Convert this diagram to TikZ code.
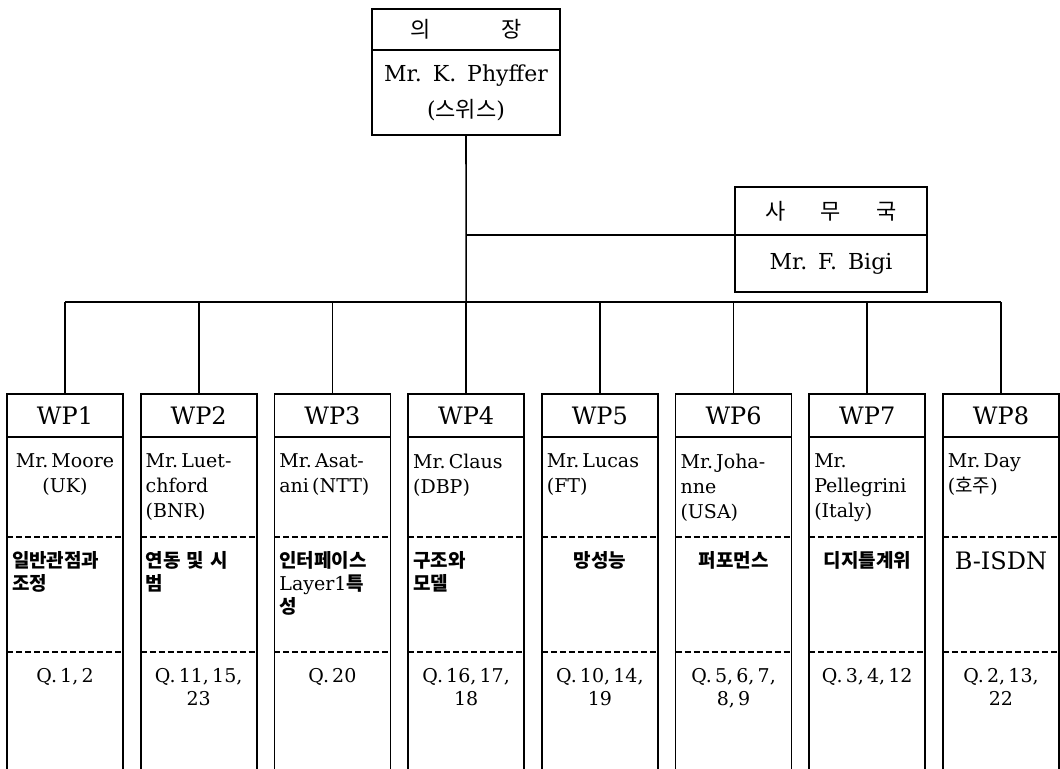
\documentclass[tikz,border=0pt]{standalone}
\usepackage{fontspec}
\setmainfont{DejaVu Serif}
\newfontfamily\kr{Noto Sans CJK KR}
\usetikzlibrary{positioning}
\begin{document}
\begin{tikzpicture}[x=0.5pt,y=-0.5pt,line width=0.8pt,
  box/.style={draw,outer sep=0pt,inner sep=0pt},
  hdr/.style={box,anchor=north,minimum width=58pt,minimum height=21.5pt,font=\fontsize{12}{14}\selectfont},
  txt/.style={anchor=north,inner sep=0pt,text width=53pt,font=\fontsize{9.5}{12.5}\selectfont},
  topic/.style={txt,font=\kr\bfseries\fontsize{9.5}{11.5}\selectfont},
  ques/.style={txt,align=center,font=\fontsize{9.5}{11.5}\selectfont},
  sep/.style={dash pattern=on 3pt off 1.5pt}]
  \useasboundingbox (0,0) rectangle (1060,768);
  % chairman and secretariat
  \node[box,anchor=north,minimum width=94pt,minimum height=20.5pt,font=\kr\fontsize{11}{13}\selectfont] (chair) at (466,9) {의\hspace{3.2em}장};
  \node[box,below=0pt of chair,minimum width=94pt,minimum height=42.5pt,align=center,font=\fontsize{11}{18}\selectfont] (chairnm) {Mr.\hspace{0.5em}K.\hspace{0.5em}Phyffer\\({\kr 스위스})};
  \node[box,anchor=north,minimum width=96pt,minimum height=24pt,font=\kr\fontsize{11}{13}\selectfont] (sec) at (831,187) {사\hspace{1.6em}무\hspace{1.6em}국};
  \node[box,below=0pt of sec,minimum width=96pt,minimum height=28.5pt,font=\fontsize{11}{13}\selectfont] (secnm) {Mr.\hspace{0.5em}F.\hspace{0.5em}Bigi};
  % working parties
  \foreach \i/\nm/\tp/\q in {
    1/{\centering Mr.\,Moore\\(UK)\endgraf}/{일반관점과\\조정}/{Q.\,1,\,2},
    2/{Mr.\,Luet-\\chford\\(BNR)}/{연동 및 시\\범}/{Q.\,11,\,15,\\23},
    3/{Mr.\,Asat-\\ani\,(NTT)}/{인터페이스\\{\rmfamily\mdseries Layer1}특\\성}/{Q.\,20},
    4/{Mr.\,Claus\\(DBP)}/{구조와\\모델}/{Q.\,16,\,17,\\18},
    5/{Mr.\,Lucas\\(FT)}/{\centering 망성능\endgraf}/{Q.\,10,\,14,\\19},
    6/{Mr.\,Joha-\\nne\\(USA)}/{\centering 퍼포먼스\endgraf}/{Q.\,5,\,6,\,7,\\8,\,9},
    7/{Mr.\\Pellegrini\\(Italy)}/{\centering 디지틀계위\endgraf}/{Q.\,3,\,4,\,12},
    8/{Mr.\,Day\\({\kr 호주})}/{\centering\rmfamily\mdseries\fontsize{12}{14}\selectfont B-ISDN\endgraf}/{Q.\,2,\,13,\\22}}
  {
    \coordinate (b\i) at ({65+(\i-1)*133.71},302);
    \node[hdr] (wp\i) at ({65+(\i-1)*133.71},394) {WP\i};
    \draw (b\i) -- (wp\i);
    \draw (wp\i.south west) -- ++(0,360) (wp\i.south east) -- ++(0,360);
    \draw[sep] ([yshift=-50pt]wp\i.south west) -- ([yshift=-50pt]wp\i.south east);
    \draw[sep] ([yshift=-107.5pt]wp\i.south west) -- ([yshift=-107.5pt]wp\i.south east);
    \node[txt] (nm\i) at ([yshift=-8pt]wp\i.south) {\nm};
    \node[topic] (tp\i) at ([yshift=-57pt]wp\i.south) {\tp};
    \node[ques] (q\i) at ([yshift=-115.5pt]wp\i.south) {\q};
  }
  % connectors
  \draw (chairnm) -- (b4);
  \draw (sec.south west) -- (sec.south west -| chairnm.south);
  \draw (b1) -- (b8);
\end{tikzpicture}
\end{document}
